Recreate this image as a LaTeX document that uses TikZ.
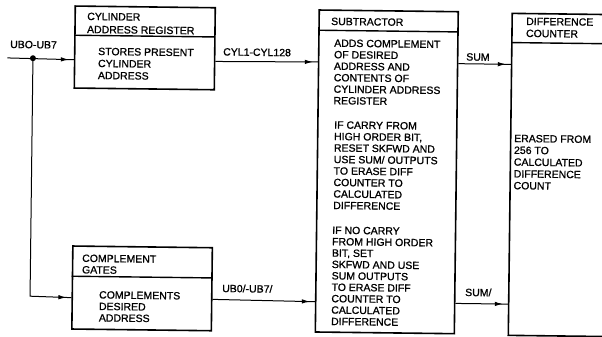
\documentclass[tikz,border=0pt]{standalone}
\usepackage{fontspec}
\newfontfamily\diafont{Liberation Sans}[FakeBold=1]
\usetikzlibrary{arrows.meta,decorations.markings,calc}
\begin{document}
\begin{tikzpicture}[x=1pt,y=-1pt,
  box/.style={draw, line width=1.6pt, anchor=north west, inner sep=0pt},
  divider/.style={line width=1.4pt},
  txt/.style={anchor=base west, inner sep=0pt, align=left, font=\diafont\fontsize{10.5}{#1}\selectfont},
  txt/.default=11.5,
  conn/.style={line width=1pt, postaction={decorate}, decoration={markings, mark=at position -5pt with {\arrow{Latex[length=8pt,width=4.5pt]}}}}]
\fill[white] (0,0) rectangle (602,337);
\clip (0,0) rectangle (602,337);
\begin{scope}[rotate around={-0.7:(300,170)}, transform shape]
% boxes
\node[box, minimum width=140pt, minimum height=82pt] (cyl) at (72.5,8) {};
\draw[divider] (72.5,38) -- (212.5,38);
\node[box, minimum width=139.5pt, minimum height=83pt] (comp) at (73,248) {};
\draw[divider] (73,279) -- (212.5,279);
\node[box, minimum width=139pt, minimum height=322pt] (sub) at (316.5,9) {};
\draw[divider] (316.5,30) -- (455.5,30);
\node[box, minimum width=150pt, minimum height=322pt] (diff) at (509.5,10) {};
\draw[divider] (509.5,40) -- (659.5,40);
% texts
\node[txt=13] (cylh) at (85.2,35.6) {CYLINDER\\ADDRESS REGISTER};
\node[txt=12] (cylb) at (96.6,81.5) {STORES PRESENT\\CYLINDER\\ADDRESS};
\node[txt] (comph) at (83.1,276) {COMPLEMENT\\GATES};
\node[txt] (compb) at (100.5,323.9) {COMPLEMENTS\\DESIRED\\ADDRESS};
\node[txt] (subh) at (329.2,24.6) {SUBTRACTOR};
\node[txt] (subp1) at (332.5,103.8) {ADDS COMPLEMENT\\OF DESIRED\\ADDRESS AND\\CONTENTS OF\\CYLINDER ADDRESS\\REGISTER};
\node[txt] (subp2) at (333.5,208.6) {IF CARRY FROM\\HIGH ORDER BIT,\\RESET SKFWD AND\\USE SUM/ OUTPUTS\\TO ERASE DIFF\\COUNTER TO\\CALCULATED\\DIFFERENCE};
\node[txt=11.4] (subp3) at (332.8,324.6) {IF NO CARRY\\FROM HIGH ORDER\\BIT, SET\\SKFWD AND USE\\SUM OUTPUTS\\TO ERASE DIFF\\COUNTER TO\\CALCULATED\\DIFFERENCE};
\node[txt=12] (diffh) at (524.2,34.2) {DIFFERENCE\\COUNTER};
\node[txt=11.8] (diffb) at (513.6,186.6) {ERASED FROM\\256 TO\\CALCULATED\\DIFFERENCE\\COUNT};
% labels
\node[txt] (lin) at (8.5,51.5) {UBO-UB7};
\node[txt] (lcyl) at (221.6,56.4) {CYL1-CYL128};
\node[txt] (lsum) at (464.7,58.5) {SUM};
\node[txt] (lsumn) at (466.5,294) {SUM/};
\node[txt] (lub) at (223.5,293) {UB0/-UB7/};
% connectors
\coordinate (in) at (6,61.5);
\coordinate (dot) at (31.6,61.5);
\coordinate (turn) at (31.6,299.5);
\draw[conn] (in) -- ($(cyl.north west)!0.652!(cyl.south west)$);
\fill (dot) circle (3pt);
\draw[conn] (dot) -- (turn) -- ($(comp.north west)!0.620!(comp.south west)$);
\draw[conn] ($(cyl.north east)!0.652!(cyl.south east)$) -- ($(sub.north west)!0.163!(sub.south west)$);
\draw[conn] ($(comp.north east)!0.620!(comp.south east)$) -- ($(sub.north west)!0.904!(sub.south west)$);
\draw[conn] ($(sub.north east)!0.163!(sub.south east)$) -- ($(diff.north west)!0.160!(diff.south west)$);
\draw[conn] ($(sub.north east)!0.904!(sub.south east)$) -- ($(diff.north west)!0.901!(diff.south west)$);
\end{scope}
\end{tikzpicture}
\end{document}
